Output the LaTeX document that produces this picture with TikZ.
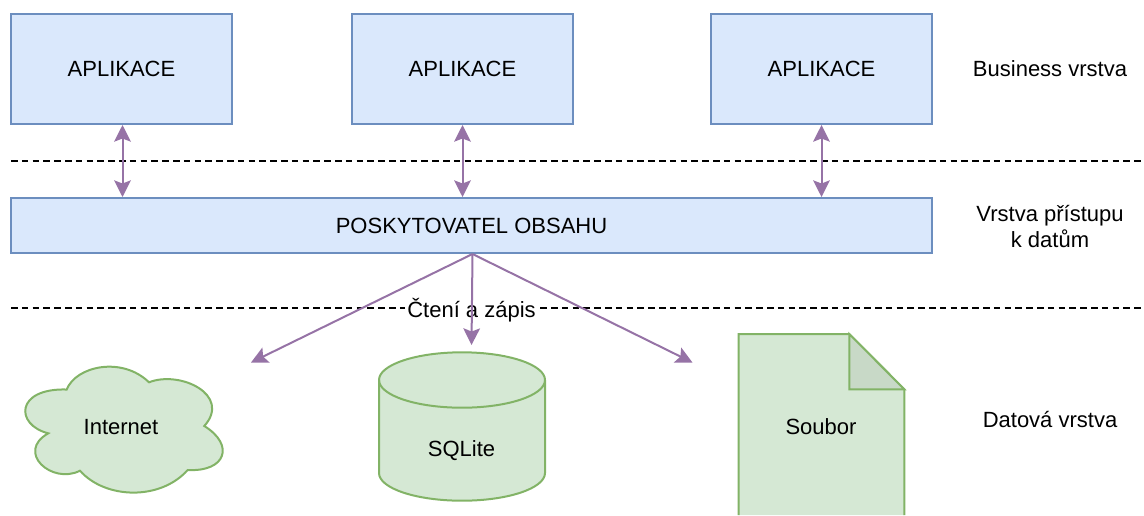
\documentclass[tikz,border=0pt]{standalone}
\usepackage{fontspec}
\setmainfont{Liberation Sans}
\usetikzlibrary{arrows.meta}
\definecolor{bluefill}{HTML}{DAE8FC}
\definecolor{blueline}{HTML}{6C8EBF}
\definecolor{greenfill}{HTML}{D5E8D4}
\definecolor{greenline}{HTML}{82B366}
\definecolor{foldfill}{HTML}{C8D9C7}
\definecolor{purpleline}{HTML}{9673A6}
\tikzset{
  every node/.style={font=\fontsize{16.5}{19.5}\selectfont, text=black, inner sep=0pt},
  bluebox/.style={draw=blueline, fill=bluefill, line width=1.5pt, rectangle, anchor=north west},
  greenshape/.style={draw=greenline, fill=greenfill, line width=1.5pt, line join=miter},
  conn/.style={draw=purpleline, line width=1.5pt},
  onetip/.style={conn, -{Stealth[length=12.5pt, width=12.5pt, inset=2.4pt]}},
  twotip/.style={conn, {Stealth[length=12.5pt, width=12.5pt, inset=2.4pt]}-{Stealth[length=12.5pt, width=12.5pt, inset=2.4pt]}},
  sepline/.style={draw=black, line width=1.1pt, dash pattern=on 5pt off 3.1pt},
  lbl/.style={align=center}
}
\begin{document}
\begin{tikzpicture}[x=0.75pt, y=-0.75pt]
\useasboundingbox (0,0) rectangle (1144,515);

% separators
\coordinate (s1a) at (11,161);
\coordinate (s1b) at (1144,161);
\coordinate (s2a) at (11,308);
\coordinate (s2b) at (1144,308);
\draw[sepline] (s1a) -- (s1b);
\draw[sepline] (s2a) -- (s2b);

% boxes
\node[bluebox, minimum width=165.75pt, minimum height=82.5pt] (app1) at (10,13) {APLIKACE};
\node[bluebox, minimum width=165.75pt, minimum height=82.5pt] (app2) at (351,13) {APLIKACE};
\node[bluebox, minimum width=165.75pt, minimum height=82.5pt] (app3) at (710,13) {APLIKACE};
\node[bluebox, minimum width=690.75pt, minimum height=41.25pt] (prov) at (10,197) {POSKYTOVATEL OBSAHU};

% cloud
\draw[greenshape] (66.7,389.5)
  .. controls (76,366) and (122,356) .. (149,382.3)
  .. controls (180,370) and (232,395) .. (204.3,426)
  .. controls (235,445) and (226,472) .. (187.7,470)
  .. controls (160,501) and (105,499) .. (80,470.7)
  .. controls (52,485) and (15,452) .. (48.3,433.3)
  .. controls (15,425) and (15,388) .. cycle;
\node (internet) at (121,427.5) {Internet};

% cylinder
\draw[greenshape] (379,380) arc[x radius=83, y radius=27.7, start angle=180, end angle=360]
  -- (545,473) arc[x radius=83, y radius=27.7, start angle=0, end angle=180] -- cycle;
\draw[greenshape, fill=none] (379,380) arc[x radius=83, y radius=27.7, start angle=180, end angle=0];
\node (sqlite) at (461.5,451) {SQLite};

% file
\fill[greenfill] (738.5,334) -- (849.3,334) -- (904.3,389.3) -- (904.3,515) -- (738.5,515) -- cycle;
\draw[greenshape, fill=none] (738.5,515) -- (738.5,334) -- (849.3,334) -- (904.3,389.3) -- (904.3,515);
\draw[greenshape, fill=foldfill] (849.3,334) -- (904.3,389.3) -- (849.3,389.3) -- cycle;
\node (file) at (821,427) {Soubor};

% label under the connectors
\node[fill=white, inner xsep=2pt, inner ysep=0pt] (rw) at (471.5,310) {Čtení a zápis};

% connector ends
\coordinate (cloudend) at (251,362.5);
\coordinate (dbend) at (471.5,345);
\coordinate (fileend) at (692.5,362.5);

% connectors
\draw[twotip] ([xshift=0.75pt]app1.south) -- ([xshift=0.75pt]app1.south |- prov.north);
\draw[twotip] (app2.south) -- (app2.south |- prov.north);
\draw[twotip] (app3.south) -- (app3.south |- prov.north);
\draw[onetip] ([xshift=0.75pt]prov.south) -- (cloudend);
\draw[onetip] ([xshift=0.75pt]prov.south) -- (dbend);
\draw[onetip] ([xshift=0.75pt]prov.south) -- (fileend);

\node[lbl] (l1) at (1050,69) {Business vrstva};
\node[lbl] (l2) at (1050,226) {Vrstva přístupu\\k datům};
\node[lbl] (l3) at (1050,419) {Datová vrstva};
\end{tikzpicture}
\end{document}
